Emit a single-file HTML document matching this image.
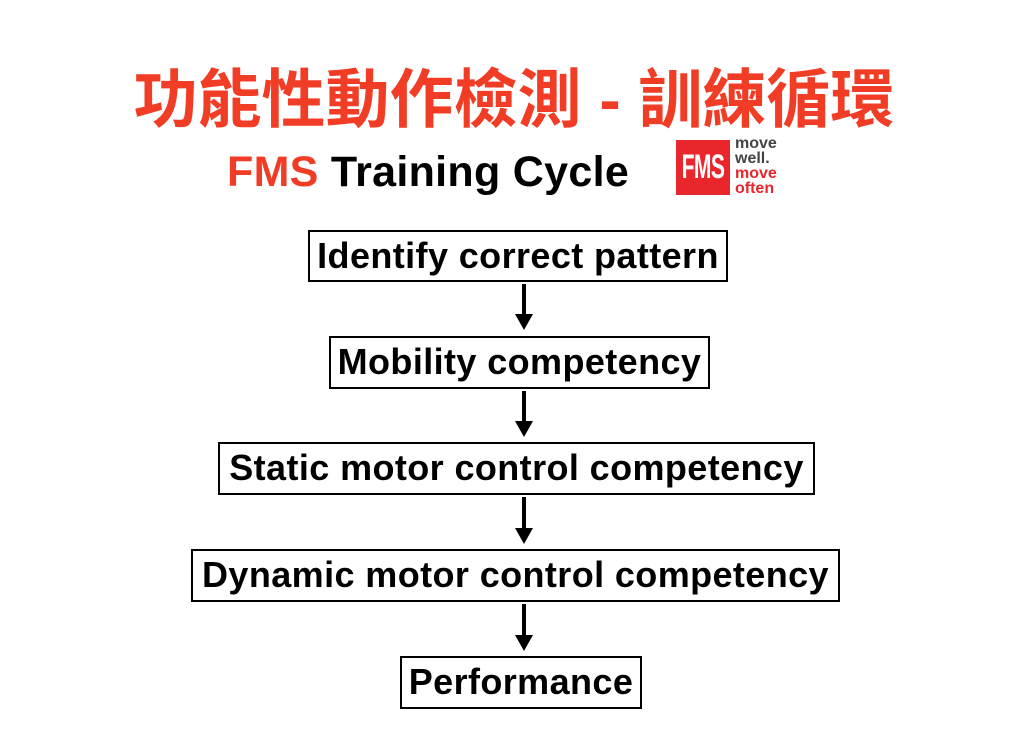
<!DOCTYPE html>
<html><head><meta charset="utf-8"><style>
body{margin:0;width:1024px;height:754px;background:#fff;position:relative;overflow:hidden;font-family:"Liberation Sans",Arial,sans-serif}
.t{position:absolute;left:0;width:1028px;top:60px;text-align:center;font:bold 64px "Liberation Sans","Noto Sans CJK TC",sans-serif;color:#f23d26;line-height:80px;white-space:nowrap}
.s{position:absolute;left:227px;top:146px;font-weight:bold;font-size:43px;line-height:52px;white-space:nowrap;letter-spacing:0.3px}
.b{position:absolute;border:2px solid #000;box-sizing:border-box;text-align:center;font-weight:bold;font-size:36px;line-height:48px;white-space:nowrap;letter-spacing:0.4px}
.a{position:absolute;left:522px;width:4px;background:#000}
.h{position:absolute;left:515px;width:0;height:0;border-left:9px solid transparent;border-right:9px solid transparent;border-top:16px solid #000}
</style></head><body>
<div class="t">功能性動作檢測 - 訓練循環</div>
<div class="s"><span style="color:#f23d26">FMS</span> Training Cycle</div>
<div style="position:absolute;left:676px;top:140px;width:54px;height:55px;background:#e8262c;overflow:hidden"><div style="color:#fff;font:bold 34px 'Liberation Sans',sans-serif;line-height:55px;text-align:center;transform:scaleX(0.62);transform-origin:center;margin-left:-20px;width:94px;letter-spacing:-1px">FMS</div></div>
<div style="position:absolute;left:735px;top:136px;font:bold 16px 'Liberation Sans',sans-serif;line-height:15px"><span style="color:#444">move<br>well.</span><br><span style="color:#e8262c">move<br>often</span></div>
<div class="b" style="left:308px;top:230px;width:420px;height:52px">Identify correct pattern</div>
<div class="a" style="top:284px;height:32px"></div><div class="h" style="top:314px"></div>
<div class="b" style="left:329px;top:336px;width:381px;height:53px">Mobility competency</div>
<div class="a" style="top:391px;height:32px"></div><div class="h" style="top:421px"></div>
<div class="b" style="left:218px;top:442px;width:597px;height:53px">Static motor control competency</div>
<div class="a" style="top:497px;height:32px"></div><div class="h" style="top:528px"></div>
<div class="b" style="left:191px;top:549px;width:649px;height:53px">Dynamic motor control competency</div>
<div class="a" style="top:604px;height:32px"></div><div class="h" style="top:635px"></div>
<div class="b" style="left:400px;top:656px;width:242px;height:53px">Performance</div>
</body></html>
